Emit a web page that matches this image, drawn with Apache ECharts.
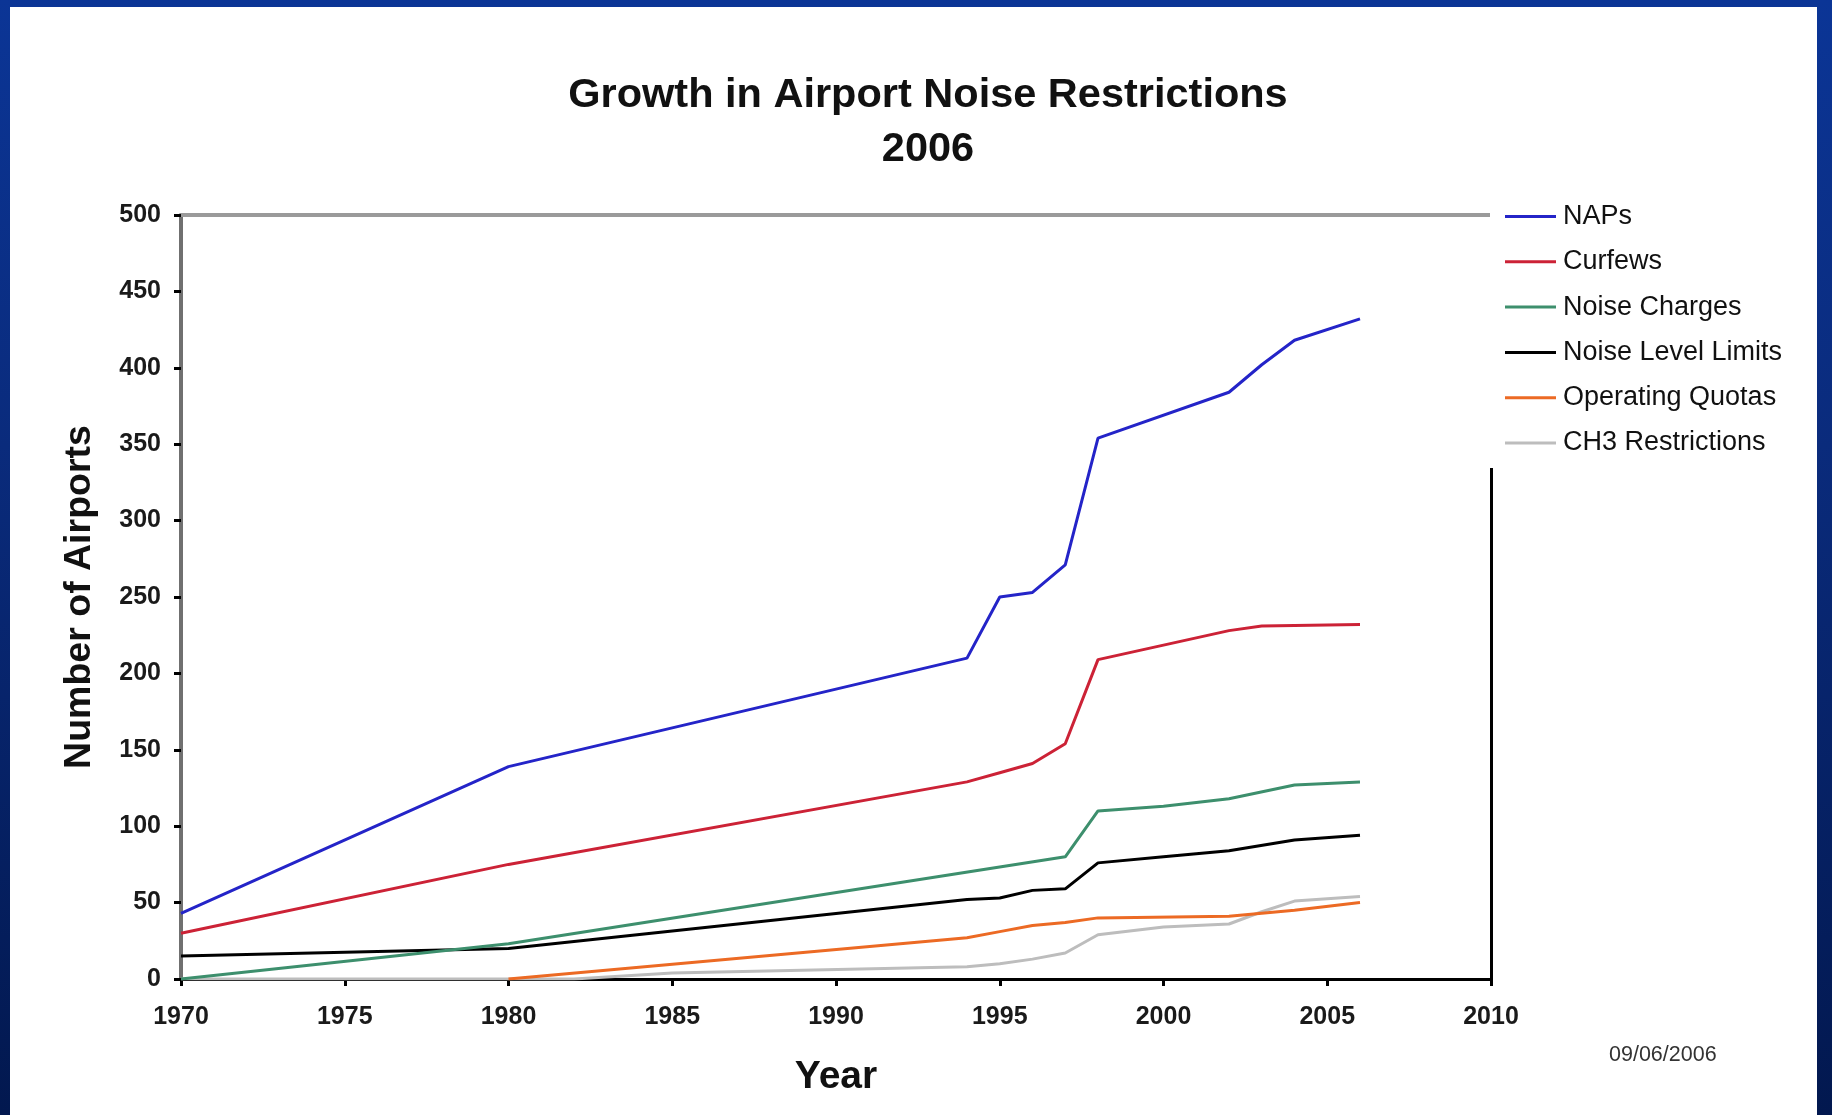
<!DOCTYPE html>
<html>
<head>
<meta charset="utf-8">
<script src="https://cdn.jsdelivr.net/npm/echarts@6/dist/echarts.min.js"></script>
<style>
  html, body { margin: 0; padding: 0; width: 1832px; height: 1115px; overflow: hidden; }
  body { background: linear-gradient(to bottom, #0b3596 0%, #0a2b7c 40%, #02184f 100%); position: relative; }
  #panel { position: absolute; left: 10px; top: 7px; width: 1807px; height: 1108px; background: #ffffff; }
  #chart { position: absolute; left: 0; top: 0; width: 1832px; height: 1115px; }
</style>
</head>
<body>
<div id="panel"></div>
<div id="chart"></div>
<script>
// Airports with each kind of noise restriction, by year ([year, count])
const NAPS = [[1970, 43], [1980, 139], [1994, 210], [1995, 250], [1996, 253], [1997, 271], [1998, 354], [2002, 384], [2003, 402], [2004, 418], [2006, 432]];
const CURFEWS = [[1970, 30], [1980, 75], [1994, 129], [1995, 135], [1996, 141], [1997, 154], [1998, 209], [2002, 228], [2003, 231], [2006, 232]];
const NOISE_CHARGES = [[1970, 0], [1980, 23], [1997, 80], [1998, 110], [2000, 113], [2002, 118], [2004, 127], [2006, 129]];
const NOISE_LEVEL_LIMITS = [[1970, 15], [1980, 20], [1994, 52], [1995, 53], [1996, 58], [1997, 59], [1998, 76], [2000, 80], [2002, 84], [2004, 91], [2006, 94]];
const OPERATING_QUOTAS = [[1980, 0], [1994, 27], [1995, 31], [1996, 35], [1997, 37], [1998, 40], [2002, 41], [2003, 43], [2004, 45], [2006, 50]];
const CH3_RESTRICTIONS = [[1970, 0], [1982, 0], [1985, 4], [1994, 8], [1995, 10], [1996, 13], [1997, 17], [1998, 29], [2000, 34], [2002, 36], [2003, 44], [2004, 51], [2006, 54]];

const SERIES_NAMES = ['NAPs', 'Curfews', 'Noise Charges', 'Noise Level Limits', 'Operating Quotas', 'CH3 Restrictions'];
const SERIES_DATA = [NAPS, CURFEWS, NOISE_CHARGES, NOISE_LEVEL_LIMITS, OPERATING_QUOTAS, CH3_RESTRICTIONS];
const SERIES_COLORS = ['#2424c8', '#cc2236', '#3d8f6d', '#000000', '#ec6a24', '#bdbdbd'];

const FONT = '"Liberation Sans", Arial, sans-serif';

const chart = echarts.init(document.getElementById('chart'), null, { renderer: 'canvas' });

const series = SERIES_NAMES.map((name, i) => ({
  name: name,
  type: 'line',
  data: SERIES_DATA[i],
  symbol: 'none',
  smooth: false,
  z: 10 - i,
  lineStyle: { color: SERIES_COLORS[i], width: 3 },
  itemStyle: { color: SERIES_COLORS[i] }
}));

chart.setOption({
  animation: false,
  backgroundColor: 'transparent',
  textStyle: { fontFamily: FONT },
  title: [
    {
      text: 'Growth in Airport Noise Restrictions\n2006',
      left: 923,
      top: 64,
      textAlign: 'center',
      textStyle: { fontFamily: FONT, fontWeight: 'bold', fontSize: 41.5, lineHeight: 54, color: '#111' }
    },
    {
      text: '09/06/2006',
      left: 1604,
      top: 1039,
      textStyle: { fontFamily: FONT, fontWeight: 'normal', fontSize: 21.5, color: '#333' }
    }
  ],
  legend: {
    orient: 'vertical',
    left: 1490,
    top: 196.5,
    padding: [5, 12, 10, 15],
    backgroundColor: '#ffffff',
    itemWidth: 51,
    itemHeight: 3,
    itemGap: 15.3,
    icon: 'rect',
    textStyle: { fontFamily: FONT, fontSize: 27, lineHeight: 30, color: '#111', padding: [0, 0, 0, 2] },
    data: SERIES_NAMES
  },
  grid: { left: 181, right: 341, top: 215, bottom: 136, containLabel: false },
  xAxis: [
    {
      type: 'value',
      min: 1970,
      max: 2010,
      interval: 5,
      name: 'Year',
      nameLocation: 'middle',
      nameGap: 79,
      nameTextStyle: { fontFamily: FONT, fontWeight: 'bold', fontSize: 39, color: '#111' },
      axisLine: { show: true, onZero: false, lineStyle: { color: '#000', width: 3 } },
      axisTick: { show: true, inside: false, length: 7, lineStyle: { color: '#000', width: 3 } },
      axisLabel: { margin: 26, fontFamily: FONT, fontWeight: 'bold', fontSize: 25, color: '#1a1a1a', formatter: v => String(v) },
      splitLine: { show: false }
    },
    {
      type: 'value',
      position: 'top',
      min: 1970,
      max: 2010,
      axisLine: { show: true, onZero: false, lineStyle: { color: '#9a9a9a', width: 4 } },
      axisTick: { show: false },
      axisLabel: { show: false },
      splitLine: { show: false }
    }
  ],
  yAxis: [
    {
      type: 'value',
      min: 0,
      max: 500,
      interval: 50,
      name: 'Number of Airports',
      nameLocation: 'middle',
      nameRotate: 90,
      nameGap: 82,
      nameTextStyle: { fontFamily: FONT, fontWeight: 'bold', fontSize: 37.5, color: '#111' },
      axisLine: { show: true, onZero: false, lineStyle: { color: '#707070', width: 4 } },
      axisTick: { show: true, inside: false, length: 7, lineStyle: { color: '#000', width: 3 } },
      axisLabel: { margin: 20, fontFamily: FONT, fontWeight: 'bold', fontSize: 25, color: '#1a1a1a' },
      splitLine: { show: false }
    },
    {
      type: 'value',
      position: 'right',
      min: 0,
      max: 500,
      interval: 50,
      axisLine: { show: true, onZero: false, lineStyle: { color: '#000', width: 3 } },
      axisTick: { show: false },
      axisLabel: { show: false },
      splitLine: { show: false }
    }
  ],
  series: series
});
</script>
</body>
</html>
